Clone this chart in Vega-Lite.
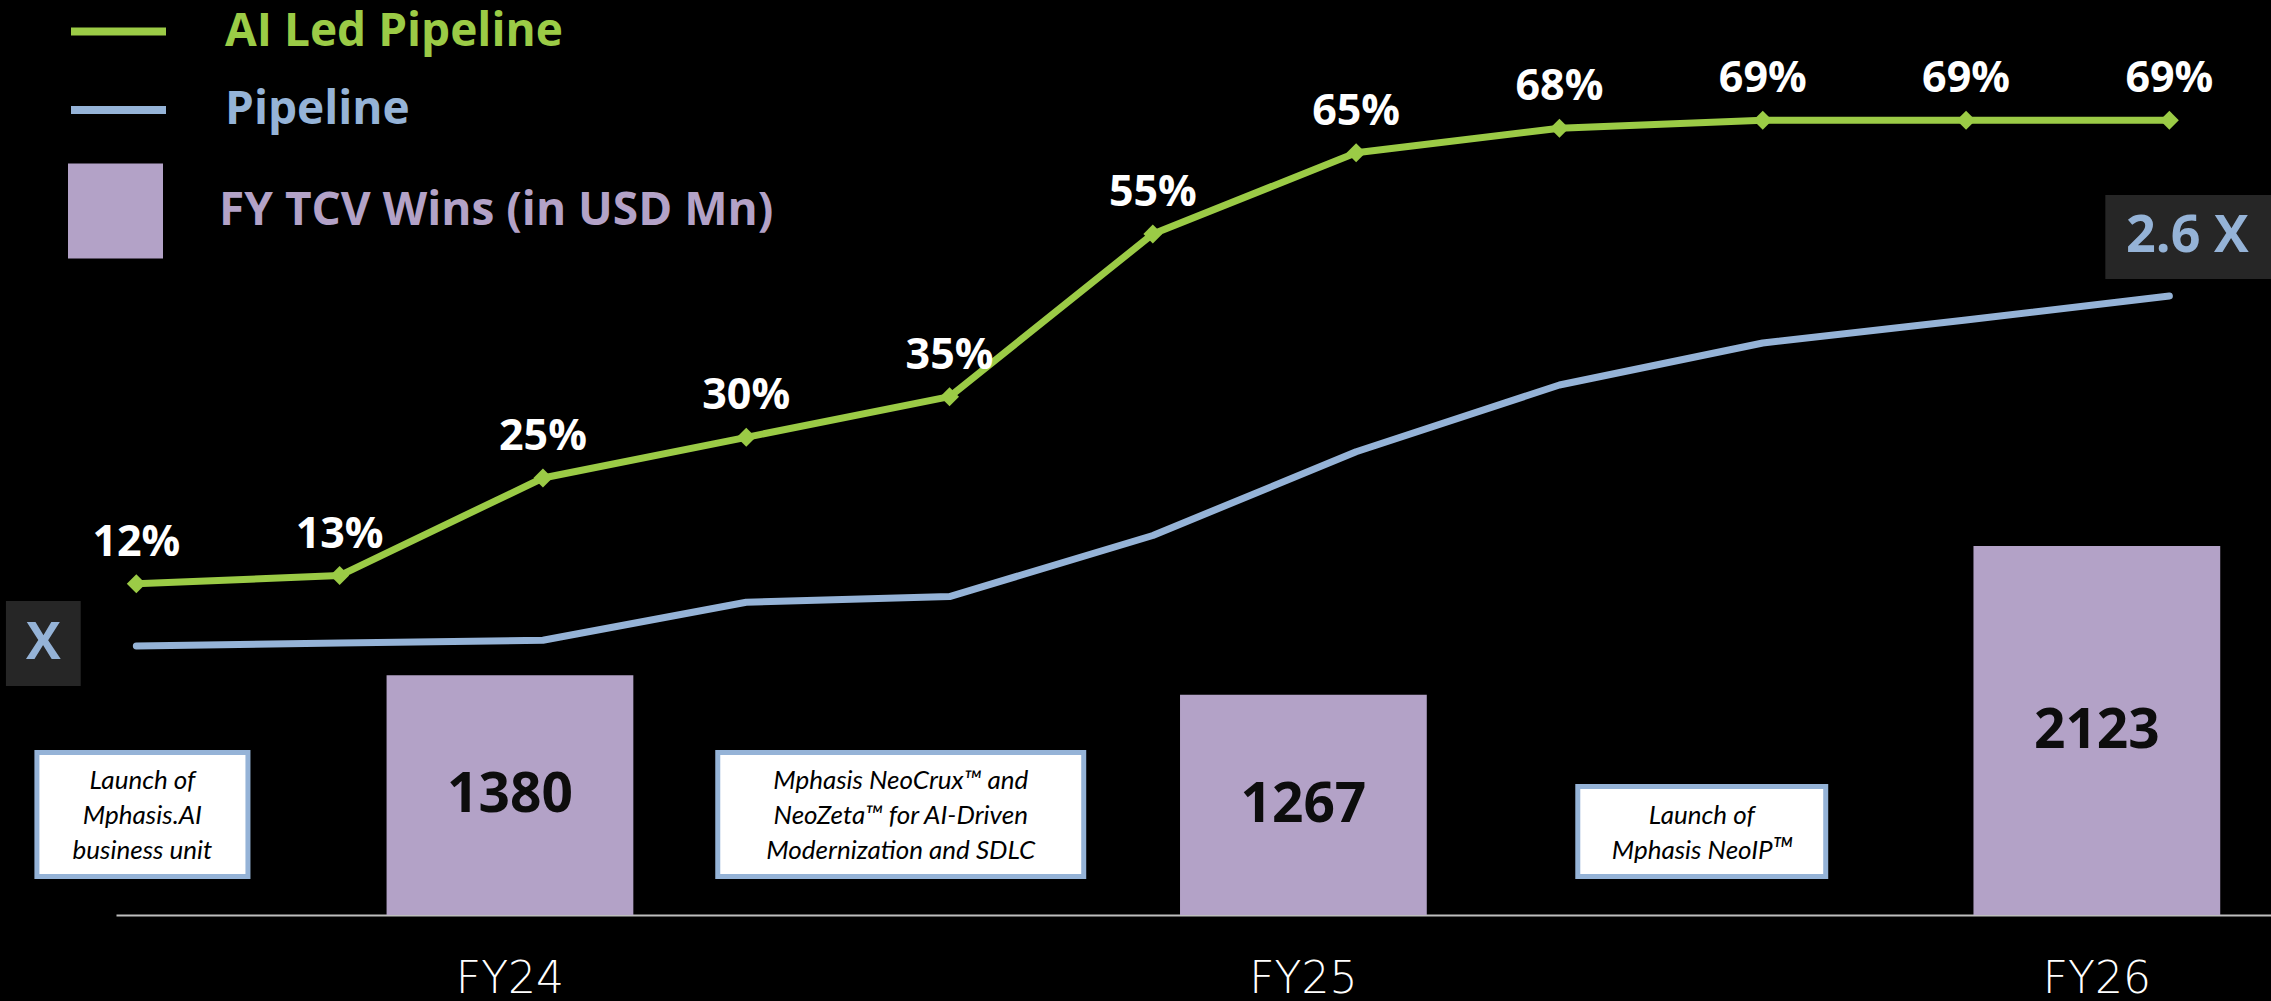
{
  "$schema": "https://vega.github.io/schema/vega-lite/v6.json",
  "width": 2155,
  "height": 915,
  "autosize": {"type": "none"},
  "padding": {"left": 116, "top": 0, "right": 0, "bottom": 86},
  "background": "#000000",
  "config": {"view": {"stroke": null}, "font": "Open Sans"},
  "resolve": {
    "scale": {"x": "independent", "y": "independent", "color": "independent", "shape": "independent"},
    "legend": {"color": "independent"}
  },
  "layer": [
    {
      "data": {"values": [
        {"fy": "FY24", "tcv": 1380},
        {"fy": "FY25", "tcv": 1267},
        {"fy": "FY26", "tcv": 2123}
      ]},
      "resolve": {"scale": {"y": "independent"}},
      "encoding": {
        "x": {
          "field": "fy", "type": "nominal",
          "scale": {"domain": ["FY24", "FY25", "FY26"], "paddingInner": 0.689, "paddingOuter": 0.2025, "align": 0.842},
          "axis": {
            "title": null, "ticks": false, "tickSize": 0, "grid": false,
            "domain": true, "domainColor": "#BFBFBF", "domainWidth": 2,
            "labelAngle": 0, "labelColor": "#FFFFFF", "labelFont": "DejaVu Sans", "labelFontWeight": 200,
            "labelFontSize": 44, "labelPadding": 42
          }
        }
      },
      "layer": [
        {
          "mark": {"type": "bar"},
          "encoding": {
            "y": {"field": "tcv", "type": "quantitative", "scale": {"domain": [0, 5265], "nice": false}, "axis": null},
            "color": {
              "datum": "FY TCV Wins (in USD Mn)",
              "scale": {"range": ["#B3A2C7"]},
              "legend": {
                "orient": "none", "legendX": -49, "legendY": 162.5, "padding": 0, "title": null,
                "symbolType": "square", "symbolSize": 9025, "symbolOpacity": 1,
                "labelColor": "#B3A2C7", "labelFont": "Open Sans", "labelFontSize": 46, "labelFontWeight": "bold",
                "labelOffset": 55, "labelLimit": 1200
              }
            }
          }
        },
        {
          "mark": {"type": "text", "color": "#0D0D0D", "fontSize": 55, "fontWeight": "bold", "font": "Open Sans", "baseline": "middle"},
          "encoding": {
            "y": {"field": "tcv", "type": "quantitative", "scale": {"domain": [0, 10530], "nice": false}, "axis": null},
            "text": {"field": "tcv", "type": "quantitative", "format": "d"}
          }
        }
      ]
    },
    {
      "data": {"values": [
        {"idx": 0, "pct": 0.12}, {"idx": 1, "pct": 0.13}, {"idx": 2, "pct": 0.25},
        {"idx": 3, "pct": 0.30}, {"idx": 4, "pct": 0.35}, {"idx": 5, "pct": 0.55},
        {"idx": 6, "pct": 0.65}, {"idx": 7, "pct": 0.68}, {"idx": 8, "pct": 0.69},
        {"idx": 9, "pct": 0.69}, {"idx": 10, "pct": 0.69}
      ]},
      "encoding": {
        "x": {"field": "idx", "type": "quantitative", "scale": {"domain": [-0.1, 10.5], "nice": false, "zero": false}, "axis": null},
        "y": {"field": "pct", "type": "quantitative", "scale": {"domain": [-0.2874, 0.8378], "nice": false, "zero": false}, "axis": null}
      },
      "layer": [
        {
          "mark": {"type": "line", "strokeWidth": 7, "strokeJoin": "round"},
          "encoding": {
            "color": {
              "datum": "AI Led Pipeline",
              "scale": {"range": ["#9BCB46"]},
              "legend": {
                "orient": "none", "legendX": -49, "legendY": -20, "padding": 0, "title": null,
                "symbolType": "stroke", "symbolSize": 9025, "symbolStrokeWidth": 8, "symbolOpacity": 1,
                "labelColor": "#9BCB46", "labelFont": "Open Sans", "labelFontSize": 46, "labelFontWeight": "bold",
                "labelOffset": 55, "labelLimit": 1200
              }
            }
          }
        },
        {
          "mark": {"type": "point", "shape": "diamond", "filled": true, "size": 360, "color": "#9BCB46", "opacity": 1}
        },
        {
          "mark": {"type": "text", "color": "#FFFFFF", "fontSize": 43, "fontWeight": "bold", "font": "Open Sans", "baseline": "alphabetic", "dy": -28},
          "encoding": {"text": {"field": "pct", "type": "quantitative", "format": ".0%"}}
        }
      ]
    },
    {
      "data": {"values": [
        {"idx": 0, "mult": 1.0, "callout": "X"}, {"idx": 1, "mult": 1.014}, {"idx": 2, "mult": 1.026},
        {"idx": 3, "mult": 1.2}, {"idx": 4, "mult": 1.226}, {"idx": 5, "mult": 1.505},
        {"idx": 6, "mult": 1.888}, {"idx": 7, "mult": 2.193}, {"idx": 8, "mult": 2.385},
        {"idx": 9, "mult": 2.49}, {"idx": 10, "mult": 2.6, "callout": "2.6 X"}
      ]},
      "encoding": {
        "x": {"field": "idx", "type": "quantitative", "scale": {"domain": [-0.1, 10.5], "nice": false, "zero": false}, "axis": null},
        "y": {"field": "mult", "type": "quantitative", "scale": {"domain": [-0.2297, 3.953], "nice": false, "zero": false}, "axis": null}
      },
      "layer": [
        {
          "mark": {"type": "line", "strokeWidth": 7, "strokeCap": "round", "strokeJoin": "round"},
          "encoding": {
            "color": {
              "datum": "Pipeline",
              "scale": {"range": ["#95B3D7"]},
              "legend": {
                "orient": "none", "legendX": -49, "legendY": 58.5, "padding": 0, "title": null,
                "symbolType": "stroke", "symbolSize": 9025, "symbolStrokeWidth": 8, "symbolOpacity": 1,
                "labelColor": "#95B3D7", "labelFont": "Open Sans", "labelFontSize": 46, "labelFontWeight": "bold",
                "labelOffset": 55, "labelLimit": 1200
              }
            }
          }
        },
        {
          "transform": [{"filter": "datum.callout == 'X'"}],
          "mark": {"type": "point", "shape": "M-0.88,-1H0.88V1H-0.88Z", "size": 7225, "filled": true, "color": "#262626", "opacity": 1, "xOffset": -93, "yOffset": -2.5}
        },
        {
          "transform": [{"filter": "datum.callout == 'X'"}],
          "mark": {"type": "text", "color": "#95B3D7", "fontSize": 52, "fontWeight": "bold", "font": "Open Sans", "baseline": "middle", "dx": -93, "dy": -3},
          "encoding": {"text": {"field": "callout", "type": "nominal"}}
        },
        {
          "transform": [{"filter": "datum.callout == '2.6 X'"}],
          "mark": {"type": "point", "shape": "M-2.024,-1H2.024V1H-2.024Z", "size": 7056, "filled": true, "color": "#262626", "opacity": 1, "xOffset": 21, "yOffset": -59}
        },
        {
          "transform": [{"filter": "datum.callout == '2.6 X'"}],
          "mark": {"type": "text", "color": "#95B3D7", "fontSize": 52, "fontWeight": "bold", "font": "Open Sans", "baseline": "middle", "dx": 18, "dy": -60},
          "encoding": {"text": {"field": "callout", "type": "nominal"}}
        }
      ]
    },
    {
      "data": {"values": [
        {"idx": 0.03, "name": "a1", "note": ["Launch of", "Mphasis.AI", "business unit"]},
        {"idx": 3.76, "name": "a2", "note": ["Mphasis NeoCrux™ and", "NeoZeta™ for AI-Driven", "Modernization and SDLC"]},
        {"idx": 7.70, "name": "a3", "note": ["", "Launch of", "Mphasis NeoIPᵀᴹ"]}
      ]},
      "encoding": {
        "x": {"field": "idx", "type": "quantitative", "scale": {"domain": [-0.1, 10.5], "nice": false, "zero": false}, "axis": null}
      },
      "layer": [
        {
          "mark": {"type": "point", "filled": true, "fill": "#FFFFFF", "stroke": "#95B3D7", "strokeWidth": 5, "opacity": 1, "size": 16641, "y": {"expr": "height - 37"}},
          "encoding": {
            "shape": {
              "field": "name", "type": "nominal",
              "scale": {"domain": ["a1", "a2", "a3"], "range": [
                "M-1.636,-1.946H1.636V-0.023H-1.636Z",
                "M-2.837,-1.946H2.837V-0.023H-2.837Z",
                "M-1.922,-1.419H1.922V-0.023H-1.922Z"
              ]},
              "legend": null
            }
          }
        },
        {
          "mark": {"type": "text", "font": "Lato", "fontStyle": "italic", "fontSize": 26, "color": "#000000", "baseline": "middle", "lineHeight": 35, "align": "center", "y": {"expr": "height - 134"}},
          "encoding": {"text": {"field": "note", "type": "nominal"}}
        }
      ]
    }
  ]
}
